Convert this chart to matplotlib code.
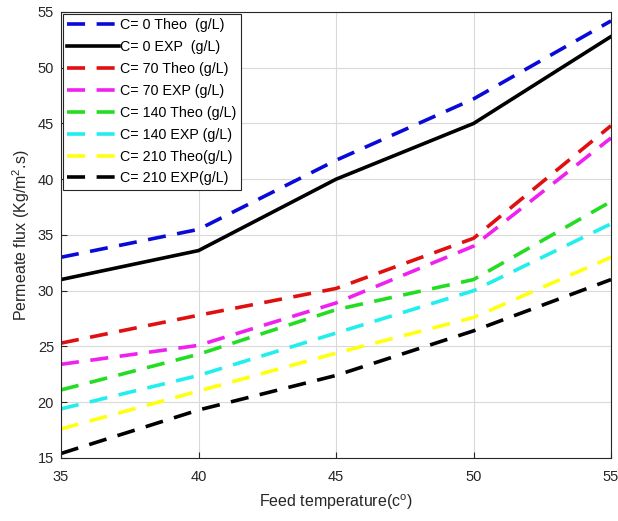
import matplotlib
matplotlib.use('Agg')
import matplotlib.pyplot as plt

plt.rcParams['font.family'] = ['Liberation Sans', 'DejaVu Sans']
plt.rcParams['mathtext.fontset'] = 'custom'
plt.rcParams['mathtext.rm'] = 'Liberation Sans'

# Feed temperature (C) and permeate flux for each feed concentration
temperature = [35, 40, 45, 50, 55]
c0_theo = [33.0, 35.5, 41.7, 47.2, 54.2]
c0_exp = [31.0, 33.6, 40.0, 45.0, 52.8]
c70_theo = [25.3, 27.8, 30.2, 34.7, 44.8]
c70_exp = [23.4, 25.1, 28.9, 34.0, 43.7]
c140_theo = [21.1, 24.3, 28.3, 31.0, 38.0]
c140_exp = [19.4, 22.4, 26.2, 30.0, 36.0]
c210_theo = [17.6, 21.0, 24.4, 27.6, 33.0]
c210_exp = [15.4, 19.3, 22.4, 26.4, 31.0]

labels = ['C= 0 Theo  (g/L)', 'C= 0 EXP  (g/L)', 'C= 70 Theo (g/L)', 'C= 70 EXP (g/L)',
          'C= 140 Theo (g/L)', 'C= 140 EXP (g/L)', 'C= 210 Theo(g/L)', 'C= 210 EXP(g/L)']
series = [c0_theo, c0_exp, c70_theo, c70_exp, c140_theo, c140_exp, c210_theo, c210_exp]
colors = ['#0a0ad8', '#000000', '#e01010', '#f020f0', '#22dd22', '#22eeee', '#ffff10', '#000000']

fig = plt.figure(figsize=(6.18, 5.21), dpi=100)
ax = fig.add_axes([0.0987, 0.121, 0.89, 0.856])

for y, c, lab in zip(series, colors, labels):
    if lab.startswith('C= 0 EXP'):
        ax.plot(temperature, y, color=c, lw=2.6, label=lab)
    else:
        ax.plot(temperature, y, color=c, lw=2.6, dashes=(5.0, 3.2), label=lab)

ax.set_xlim(35, 55)
ax.set_ylim(15, 55)
ax.set_xticks([35, 40, 45, 50, 55])
ax.set_yticks(range(15, 56, 5))
ax.grid(color='#d9d9d9', lw=0.8)
ax.set_axisbelow(True)
ax.tick_params(direction='in', labelsize=10.5, colors='#262626', length=4)
ax.tick_params(axis='x', pad=9)
ax.tick_params(axis='y', pad=5)
for s in ax.spines.values():
    s.set_color('#262626')

ax.set_xlabel('Feed temperature(c$^\\mathregular{o}$)', fontsize=11.5, color='#262626', labelpad=6)
ax.set_ylabel('Permeate flux (Kg/m$^\\mathregular{2}$.s)', fontsize=11.5, color='#262626', labelpad=4)

leg = ax.legend(loc='upper left', fontsize=10.3, handlelength=3.6, handletextpad=0.1,
                labelspacing=0.55, borderpad=0.3, borderaxespad=0.15, fancybox=False,
                framealpha=1, edgecolor='#262626')
leg.get_frame().set_linewidth(0.8)

fig.savefig('out.png', dpi=100)
